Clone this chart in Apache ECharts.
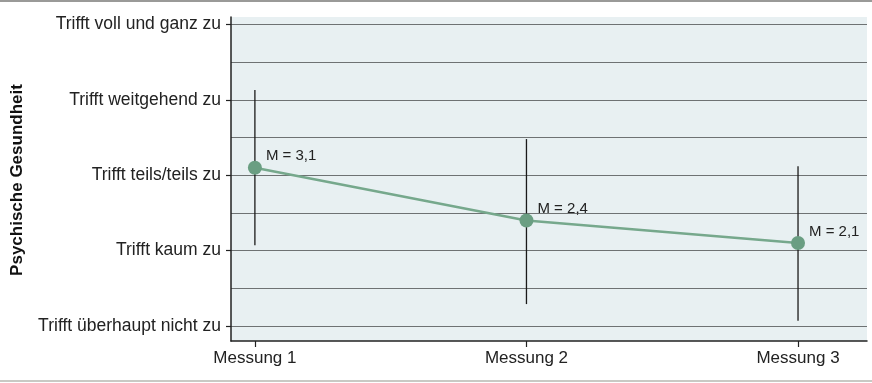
<!DOCTYPE html>
<html><head><meta charset="utf-8">
<script src="https://cdn.jsdelivr.net/npm/echarts@6/dist/echarts.min.js"></script>
<style>html,body{margin:0;padding:0;background:#fff}#c{width:872px;height:383px}</style>
</head><body><div id="c"></div>
<script>
const categories = ['Messung 1', 'Messung 2', 'Messung 3'];
const means = [3.1, 2.4, 2.1];
const errLow = [2.07, 1.29, 1.07];
const errHigh = [4.13, 3.48, 3.12];
const meanLabels = ['M = 3,1', 'M = 2,4', 'M = 2,1'];
const yTickValues = [1, 2, 3, 4, 5];
const yTickLabels = ['Trifft überhaupt nicht zu', 'Trifft kaum zu', 'Trifft teils/teils zu', 'Trifft weitgehend zu', 'Trifft voll und ganz zu'];
const yGridValues = [1, 1.5, 2, 2.5, 3, 3.5, 4, 4.5, 5];
const yTitle = 'Psychische Gesundheit';

const FONT = 'Liberation Sans';
const xPos = categories.map((_, i) => i + 1);
const chart = echarts.init(document.getElementById('c'), null, {renderer: 'canvas'});
chart.setOption({
  animation: false,
  textStyle: {fontFamily: FONT},
  grid: {left: 231, right: 5, top: 17, bottom: 42, show: true, backgroundColor: '#e8f0f2', borderWidth: 0, containLabel: false},
  graphic: [
    {type: 'rect', shape: {x: 0, y: 0, width: 872, height: 2}, style: {fill: '#9a9a98'}},
    {type: 'rect', shape: {x: 0, y: 380, width: 872, height: 2}, style: {fill: '#c9c9c4'}},
    {type: 'text', x: 17, y: 180, rotation: Math.PI / 2, style: {text: yTitle, font: 'bold 17px ' + FONT, fill: '#111', align: 'center', verticalAlign: 'middle'}}
  ],
  xAxis: {
    type: 'value', min: 0.912, max: 3.254,
    axisLine: {show: true, lineStyle: {color: '#222', width: 1.5}},
    axisTick: {show: true, length: 6, customValues: xPos, lineStyle: {color: '#222', width: 1.2}},
    axisLabel: {customValues: xPos, formatter: v => categories[Math.round(v) - 1], color: '#222', fontSize: 17, margin: 9},
    splitLine: {show: false}
  },
  yAxis: [{
    type: 'value', min: 0.8, max: 5.1,
    axisLine: {show: true, lineStyle: {color: '#222', width: 1.5}},
    axisTick: {show: true, length: 5, customValues: yTickValues, lineStyle: {color: '#222', width: 1.2}},
    axisLabel: {customValues: yTickValues, formatter: v => yTickLabels[yTickValues.indexOf(Math.round(v))], color: '#222', fontSize: 17.5, margin: 10},
    splitLine: {show: false}
  }, {
    type: 'value', min: 0.8, max: 5.1, position: 'left',
    axisLine: {show: false}, axisLabel: {show: false},
    axisTick: {show: false, customValues: yGridValues},
    splitLine: {show: true, lineStyle: {color: '#6e7273', width: 1.2}}
  }],
  series: [{
    type: 'custom', yAxisIndex: 0, z: 3,
    data: xPos.map((x, i) => [x, errLow[i], errHigh[i]]),
    renderItem: (params, api) => {
      const p1 = api.coord([api.value(0), api.value(1)]);
      const p2 = api.coord([api.value(0), api.value(2)]);
      return {type: 'line', shape: {x1: p1[0], y1: p1[1], x2: p2[0], y2: p2[1]}, style: {stroke: '#1a1a1a', lineWidth: 1.3}};
    }
  }, {
    type: 'line', yAxisIndex: 0, z: 5,
    data: xPos.map((x, i) => [x, means[i]]),
    symbol: 'circle', symbolSize: 14,
    lineStyle: {color: '#76a88c', width: 2.5},
    itemStyle: {color: '#6a9e82'},
    label: {show: true, position: [18, -12], formatter: p => meanLabels[p.dataIndex], color: '#222', fontSize: 15, fontFamily: FONT}
  }]
});
</script></body></html>
